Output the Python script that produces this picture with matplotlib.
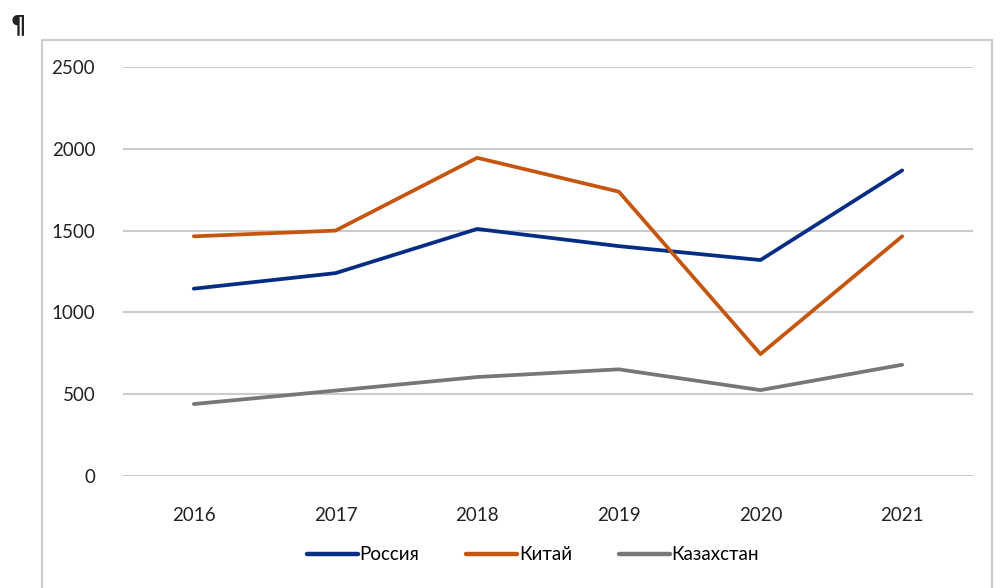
import matplotlib.pyplot as plt
import matplotlib.patches as mpatches

plt.rcParams['font.family'] = ['Lato', 'DejaVu Sans']

years = ['2016', '2017', '2018', '2019', '2020', '2021']
russia = [1145, 1240, 1510, 1405, 1320, 1868]
china = [1465, 1500, 1945, 1738, 745, 1465]
kazakhstan = [440, 522, 605, 652, 525, 680]
y_ticks = [0, 500, 1000, 1500, 2000, 2500]

W, H = 1002, 588
fig = plt.figure(figsize=(W / 100, H / 100), dpi=100)

# chart frame (Word-style chart border)
frame = mpatches.Rectangle((42 / W, -0.05), (992 - 42) / W, 1 - 40 / H + 0.05,
                           transform=fig.transFigure, fill=False,
                           edgecolor='#cccccc', linewidth=1.5)
fig.patches.append(frame)
fig.text(18 / W, 1 - 25 / H, '¶', fontsize=17, color='#222222', fontweight='bold',
         ha='center', va='center', family=['DejaVu Sans'])

ax = fig.add_axes((123 / W, 1 - 476 / H, (973 - 123) / W, (476 - 67) / H))

x = range(len(years))
ax.plot(x, russia, color='#062d84', linewidth=2.7, label='Россия', solid_capstyle='round')
ax.plot(x, china, color='#c5560f', linewidth=2.7, label='Китай', solid_capstyle='round')
ax.plot(x, kazakhstan, color='#777777', linewidth=2.7, label='Казахстан', solid_capstyle='round')

ax.set_xlim(-0.5, len(years) - 0.5)
ax.set_ylim(0, 2500)
ax.set_yticks(y_ticks)
ax.set_xticks(list(x))
ax.set_xticklabels(years)
ax.grid(axis='y', color='#cccccc', linewidth=1.5)
ax.set_axisbelow(True)
for s in ax.spines.values():
    s.set_visible(False)
ax.tick_params(axis='both', length=0, labelsize=13.5, colors='#222222')
ax.tick_params(axis='y', pad=20)
ax.tick_params(axis='x', pad=22)

leg = fig.legend(loc='center', bbox_to_anchor=(533 / W, 1 - 555 / H), ncol=3,
                 frameon=False, fontsize=13.5, handlelength=2.7, handletextpad=0.1,
                 columnspacing=2.5)
for line in leg.get_lines():
    line.set_linewidth(3.2)

fig.savefig('out.png', dpi=100)
